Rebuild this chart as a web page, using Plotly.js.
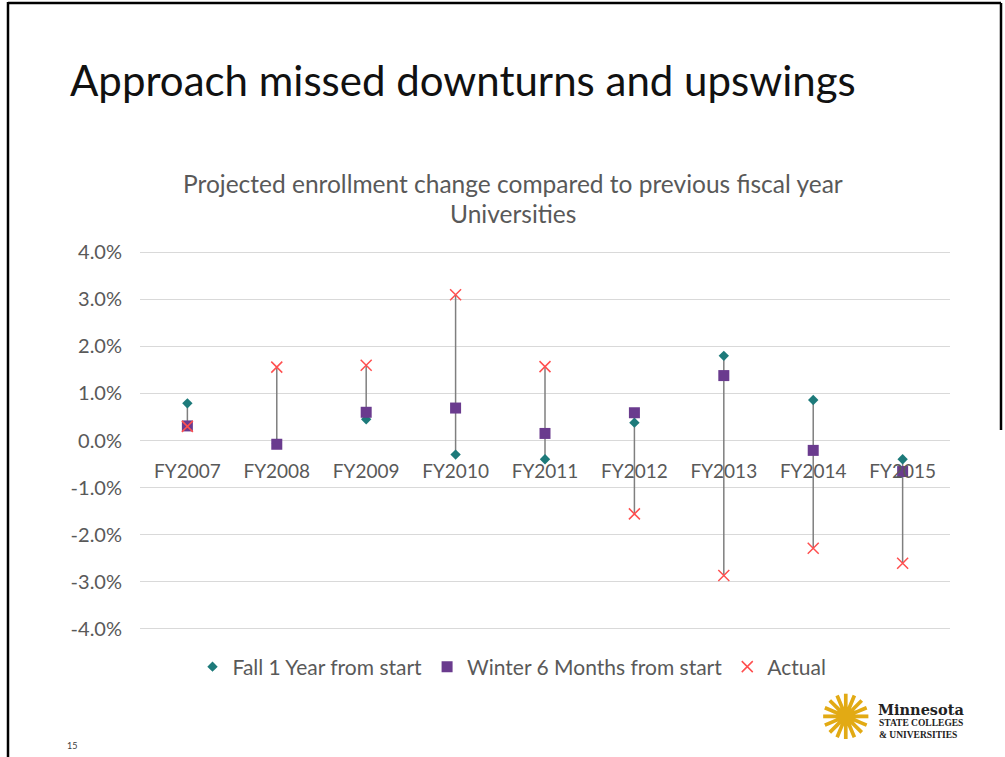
<!DOCTYPE html>
<html>
<head>
<meta charset="utf-8">
<script src="https://cdn.plot.ly/plotly-3.0.1.min.js"></script>
<style>
html,body{margin:0;padding:0;background:#fff;}
#chart{width:1005px;height:757px;}
</style>
</head>
<body>
<div id="chart"></div>
<script>
// ---- data (percent change vs previous fiscal year) ----
const categories = ["FY2007","FY2008","FY2009","FY2010","FY2011","FY2012","FY2013","FY2014","FY2015"];
const fallOneYear = [0.79, -0.07, 0.45, -0.30, -0.40, 0.38, 1.80, 0.86, -0.40];
const winterSixMonths = [0.31, -0.08, 0.60, 0.69, 0.15, 0.59, 1.38, -0.21, -0.66];
const actual = [0.30, 1.56, 1.60, 3.10, 1.57, -1.56, -2.87, -2.29, -2.61];
const yTickVals = [-4, -3, -2, -1, 0, 1, 2, 3, 4];
const yTickText = ["-4.0%","-3.0%","-2.0%","-1.0%","0.0%","1.0%","2.0%","3.0%","4.0%"];
const seriesNames = ["Fall 1 Year from start", "Winter 6 Months from start", "Actual"];

// ---- layout geometry ----
const W = 1005, H = 757;
const M = {l: 140, r: 55, t: 250, b: 126};
const plotW = W - M.l - M.r, plotH = H - M.t - M.b;
const px = x => (x - M.l) / plotW;          // pixel x -> paper x
const py = y => (H - M.b - y) / plotH;      // pixel y -> paper y

const FONT = "Lato, 'Open Sans', sans-serif";
const GRAY = "#595959";

// high-low connector lines built from the three series
const hlX = [], hlY = [];
categories.forEach((c, i) => {
  const vals = [fallOneYear[i], winterSixMonths[i], actual[i]];
  hlX.push(c, c, null);
  hlY.push(Math.max(...vals), Math.min(...vals), null);
});

const traces = [
  {x: hlX, y: hlY, type: "scatter", mode: "lines", showlegend: false, hoverinfo: "skip",
   line: {color: "#7f7f7f", width: 1.5}},
  {x: categories, y: fallOneYear, name: seriesNames[0], type: "scatter", mode: "markers",
   marker: {symbol: "diamond", size: 8, color: "#1d7a7a"}},
  {x: categories, y: winterSixMonths, name: seriesNames[1], type: "scatter", mode: "markers",
   marker: {symbol: "square", size: 11, color: "#6a3b8e"}},
  {x: categories, y: actual, name: seriesNames[2], type: "scatter", mode: "markers",
   marker: {symbol: "x-thin-open", size: 11, color: "#ff4f4f", line: {color: "#ff4f4f", width: 1.5}}}
];

const layout = {
  width: W, height: H,
  margin: M,
  paper_bgcolor: "#ffffff", plot_bgcolor: "#ffffff",
  font: {family: FONT, color: GRAY},
  showlegend: true,
  legend: {orientation: "h", x: px(512), xanchor: "center", y: py(667), yanchor: "middle",
           font: {family: FONT, size: 21, color: GRAY}, itemwidth: 30, bgcolor: "rgba(0,0,0,0)"},
  xaxis: {type: "category", anchor: "free", position: py(440), showgrid: false, showline: false,
          zeroline: false, ticks: "", tickfont: {family: FONT, size: 19, color: GRAY},
          ticklabelstandoff: 18, fixedrange: true},
  yaxis: {range: [-4.05, 4.05], tickvals: yTickVals, ticktext: yTickText, showgrid: true,
          gridcolor: "#d9d9d9", gridwidth: 1, zeroline: false, showline: false, ticks: "",
          tickfont: {family: FONT, size: 20, color: GRAY}, ticklabelstandoff: 17, fixedrange: true},
  annotations: [
    {text: "Approach missed downturns and upswings", xref: "paper", yref: "paper",
     x: px(68), y: py(80), xanchor: "left", yanchor: "middle", showarrow: false,
     font: {family: FONT, size: 42, color: "#111111"}},
    {text: "Projected enrollment change compared to previous fiscal year", xref: "paper", yref: "paper",
     x: px(513), y: py(183), xanchor: "center", yanchor: "middle", showarrow: false,
     font: {family: FONT, size: 24.5, color: GRAY}},
    {text: "Universities", xref: "paper", yref: "paper",
     x: px(513), y: py(214), xanchor: "center", yanchor: "middle", showarrow: false,
     font: {family: FONT, size: 24.5, color: GRAY}},
    {text: "15", xref: "paper", yref: "paper", x: px(72), y: py(745), xanchor: "center", yanchor: "middle",
     showarrow: false, font: {family: FONT, size: 9, color: "#404040"}},
    {text: "✺", xref: "paper", yref: "paper", x: px(846), y: py(717), xanchor: "center", yanchor: "middle",
     showarrow: false, font: {family: "DejaVu Sans", size: 62, color: "#e2aa14"}},
    {text: "<b>Minnesota</b>", xref: "paper", yref: "paper", x: px(876), y: py(709), xanchor: "left", yanchor: "middle",
     showarrow: false, font: {family: "DejaVu Serif", size: 14.5, color: "#222222"}},
    {text: "<b>STATE COLLEGES</b>", xref: "paper", yref: "paper", x: px(877), y: py(723), xanchor: "left", yanchor: "middle",
     showarrow: false, font: {family: "Liberation Serif", size: 9.5, color: "#222222"}},
    {text: "<b>&amp; UNIVERSITIES</b>", xref: "paper", yref: "paper", x: px(877), y: py(735), xanchor: "left", yanchor: "middle",
     showarrow: false, font: {family: "Liberation Serif", size: 9.5, color: "#222222"}}
  ],
  shapes: [
    {type: "line", xref: "paper", yref: "paper", x0: px(8), x1: px(8), y0: py(2), y1: py(760),
     line: {color: "#000000", width: 2.5}},
    {type: "line", xref: "paper", yref: "paper", x0: px(8), x1: px(1001), y0: py(3), y1: py(3),
     line: {color: "#000000", width: 2.5}},
    {type: "line", xref: "paper", yref: "paper", x0: px(1001), x1: px(1001), y0: py(3), y1: py(430),
     line: {color: "#000000", width: 2.5}}
  ]
};

Plotly.newPlot("chart", traces, layout, {displayModeBar: false, staticPlot: true});
</script>
</body>
</html>
